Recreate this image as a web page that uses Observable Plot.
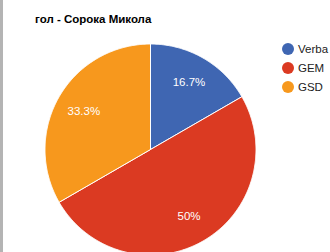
<!DOCTYPE html>
<html><head><meta charset="utf-8">
<script src="https://cdn.jsdelivr.net/npm/d3@7"></script>
<script src="https://cdn.jsdelivr.net/npm/@observablehq/plot@0.6"></script>
<style>
html,body{margin:0;padding:0;background:#fff;}
#wrap{position:relative;width:330px;height:252px;overflow:hidden;font-family:Arial,"Liberation Sans",sans-serif;}
#chart{position:absolute;left:0;top:0;}
#strip{position:absolute;left:0;top:0;width:3px;height:252px;background:#b4b4b4;}
#title{position:absolute;left:35px;top:13px;font-size:11.5px;font-weight:bold;color:#000;white-space:nowrap;}
#legend{position:absolute;left:282px;top:39.5px;}
.item{display:flex;align-items:center;height:19px;font-size:11.5px;color:#222;white-space:nowrap;}
.sw{width:12px;height:12px;border-radius:50%;margin-right:4px;flex:none;}
</style>
</head>
<body>
<div id="wrap">
  <div id="chart"></div>
  <div id="strip"></div>
  <div id="title"></div>
  <div id="legend"></div>
</div>
<script>
const title = "гол - Сорока Микола";
const categories = ["Verba", "GEM", "GSD"];
const values = [1, 3, 2];
const labels = ["16.7%", "50%", "33.3%"];
const colors = ["#3f66b2", "#db3a22", "#f7981d"];

const arcs = d3.pie().sort(null).startAngle(0).endAngle(2 * Math.PI)(values);

// slice outlines (unit circle)
const slicePts = [];
arcs.forEach((a, i) => {
  const cat = categories[i];
  slicePts.push({cat, x: 0, y: 0});
  const n = Math.max(2, Math.ceil((a.endAngle - a.startAngle) / (Math.PI / 360)));
  for (let k = 0; k <= n; k++) {
    const t = a.startAngle + (a.endAngle - a.startAngle) * k / n;
    slicePts.push({cat, x: Math.sin(t), y: Math.cos(t)});
  }
  slicePts.push({cat, x: 0, y: 0});
});

const labelPts = arcs.map((a, i) => {
  const m = (a.startAngle + a.endAngle) / 2;
  return {cat: categories[i], label: labels[i], x: 0.73 * Math.sin(m), y: 0.73 * Math.cos(m)};
});

const chart = Plot.plot({
  width: 330,
  height: 252,
  marginLeft: 44.5,
  marginRight: 74.5,
  marginTop: 43.5,
  marginBottom: 0,
  x: {domain: [-1, 1], axis: null},
  y: {domain: [-0.976, 1], axis: null},
  color: {domain: categories, range: colors},
  style: {background: "transparent", overflow: "hidden"},
  marks: [
    Plot.line(slicePts, {x: "x", y: "y", z: "cat", fill: "cat", stroke: "white", strokeWidth: 1, curve: "linear-closed"}),
    Plot.text(labelPts, {x: "x", y: "y", text: "label", fill: "white", fontSize: 11.5, fontFamily: "Arial, 'Liberation Sans', sans-serif"})
  ]
});
document.getElementById("chart").appendChild(chart);
document.getElementById("title").textContent = title;
const leg = document.getElementById("legend");
categories.forEach((c, i) => {
  const it = document.createElement("div");
  it.className = "item";
  const sw = document.createElement("span");
  sw.className = "sw";
  sw.style.background = colors[i];
  it.appendChild(sw);
  it.appendChild(document.createTextNode(c));
  leg.appendChild(it);
});
</script>
</body></html>
